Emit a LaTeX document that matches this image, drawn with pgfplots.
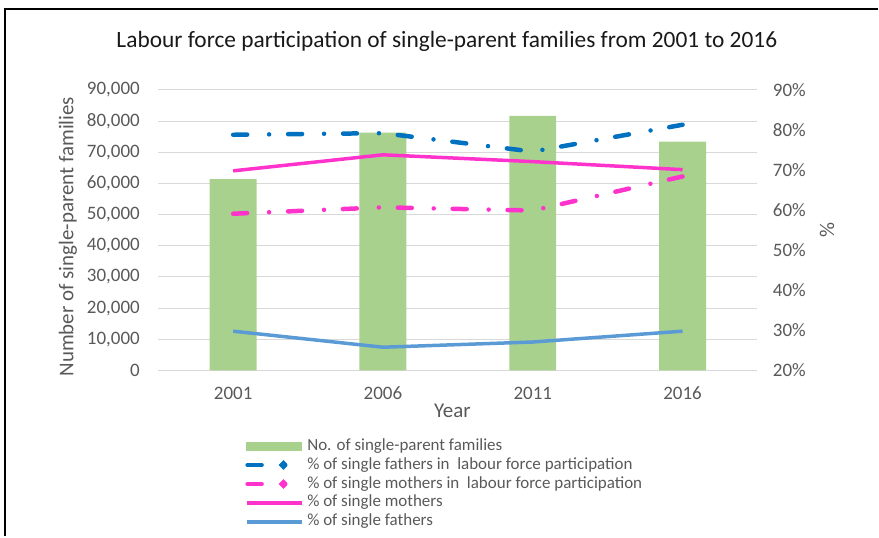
\documentclass[border=0pt]{standalone}
\usepackage{fontspec}
\setmainfont{Carlito}
\usepackage{pgfplots}
\pgfplotsset{compat=1.18}

\definecolor{barGreen}{HTML}{A9D18E}
\definecolor{darkBlue}{HTML}{0070C0}
\definecolor{hotPink}{HTML}{FF33CC}
\definecolor{lightBlue}{HTML}{5B9BD5}
\definecolor{gridGray}{HTML}{D9D9D9}
\definecolor{txtGray}{HTML}{595959}

\tikzset{
  ddline/.style={line width=4.5pt, line cap=round,
    dash pattern=on 14pt off 22pt on 0pt off 19pt},
}
% legend sample for the dash-dot series: one dash and one dot
\newcommand{\ddleg}[1]{%
  \draw[#1, line width=4.5pt, line cap=round] (1pt,0pt) -- (18pt,0pt);
  \fill[#1] (37pt,0pt) circle (1.7pt);}

\begin{document}
\begin{tikzpicture}
\path (0pt,0pt) rectangle (879pt,537pt);
\draw[line width=2.5pt] (5pt,0pt) -- (5pt,528pt) -- (879pt,528pt);
\node[anchor=base, font=\fontsize{23.4}{27}\selectfont, text=black!90] at (447.5pt,489pt)
  {Labour force participation of single-parent families from 2001 to 2016};

% left axis: number of families (bars)
\begin{axis}[
    at={(158.5pt,166pt)}, anchor=south west,
    scale only axis, width=600pt, height=281pt,
    xmin=-0.5, xmax=3.5, ymin=0, ymax=90000,
    xtick={0,1,2,3}, xticklabels={2001,2006,2011,2016},
    ytick={0,10000,...,90000},
    scaled y ticks=false,
    /pgf/number format/1000 sep={,},
    /pgf/number format/assume math mode=true,
    axis lines*=left,
    x axis line style={gridGray, line width=1pt},
    y axis line style={draw=none},
    major tick length=0pt,
    ymajorgrids, major grid style={gridGray, line width=1pt},
    tick label style={font=\fontsize{19}{21}\selectfont, text=txtGray},
    xticklabel style={yshift=-13pt},
    yticklabel style={xshift=-15pt},
    xlabel={Year}, ylabel={Number of single-parent families},
    label style={font=\fontsize{21}{23}\selectfont, text=txtGray},
    xlabel style={at={(axis description cs:0.491,-0.144)}, anchor=center},
    ylabel style={at={(axis description cs:-0.151,0.477)}, anchor=center},
]
\addplot[ybar, fill=barGreen, draw=none, bar width=47pt]
    coordinates {(0,61400) (1,76300) (2,81700) (3,73400)};
\end{axis}

% right axis: percentages (lines)
\begin{axis}[
    at={(158.5pt,166pt)}, anchor=south west,
    scale only axis, width=600pt, height=281pt,
    xmin=-0.5, xmax=3.5, ymin=20, ymax=90,
    ytick={20,30,...,90},
    axis x line=none,
    axis y line*=right,
    y axis line style={draw=none},
    major tick length=0pt,
    /pgf/number format/assume math mode=true,
    yticklabel={\pgfmathprintnumber{\tick}\%},
    tick label style={font=\fontsize{19}{21}\selectfont, text=txtGray},
    yticklabel style={xshift=12pt},
    ylabel={\%},
    ylabel style={at={(axis description cs:1.116,0.502)}, anchor=center, rotate=0,
      font=\fontsize{21}{23}\selectfont, text=txtGray},
    legend image code/.code={\draw[#1] (0pt,0pt) -- (55pt,0pt);},
    legend cell align=left,
    legend style={at={(axis description cs:0.1442,-0.2402)}, anchor=north west,
      draw=none, fill=none, inner sep=0pt,
      font=\fontsize{17}{19}\selectfont, text=txtGray,
      row sep=3pt, column sep=4pt,
      nodes={inner sep=0pt, text height=12pt, text depth=4pt}},
]
\addlegendimage{legend image code/.code={\fill[barGreen] (0pt,-4pt) rectangle (55pt,4pt);}}
\addlegendentry{No. of single-parent families}

\addplot[darkBlue, ddline, legend image code/.code={\ddleg{darkBlue}}]
    coordinates {(0,78.8) (1,79.2) (2,74.6) (3,81.3)};
\addlegendentry{\% of single fathers in\ \ labour force participation}

\addplot[hotPink, ddline, legend image code/.code={\ddleg{hotPink}}]
    coordinates {(0,59.1) (1,60.7) (2,59.9) (3,68.4)};
\addlegendentry{\% of single mothers in\ \ labour force participation}

\addplot[hotPink, line width=3.5pt] coordinates {(0,69.8) (1,73.8) (2,72.1) (3,70.1)};
\addlegendentry{\% of single mothers}

\addplot[lightBlue, line width=3.5pt] coordinates {(0,29.8) (1,25.8) (2,27.1) (3,29.8)};
\addlegendentry{\% of single fathers}
\end{axis}
\end{tikzpicture}
\end{document}
